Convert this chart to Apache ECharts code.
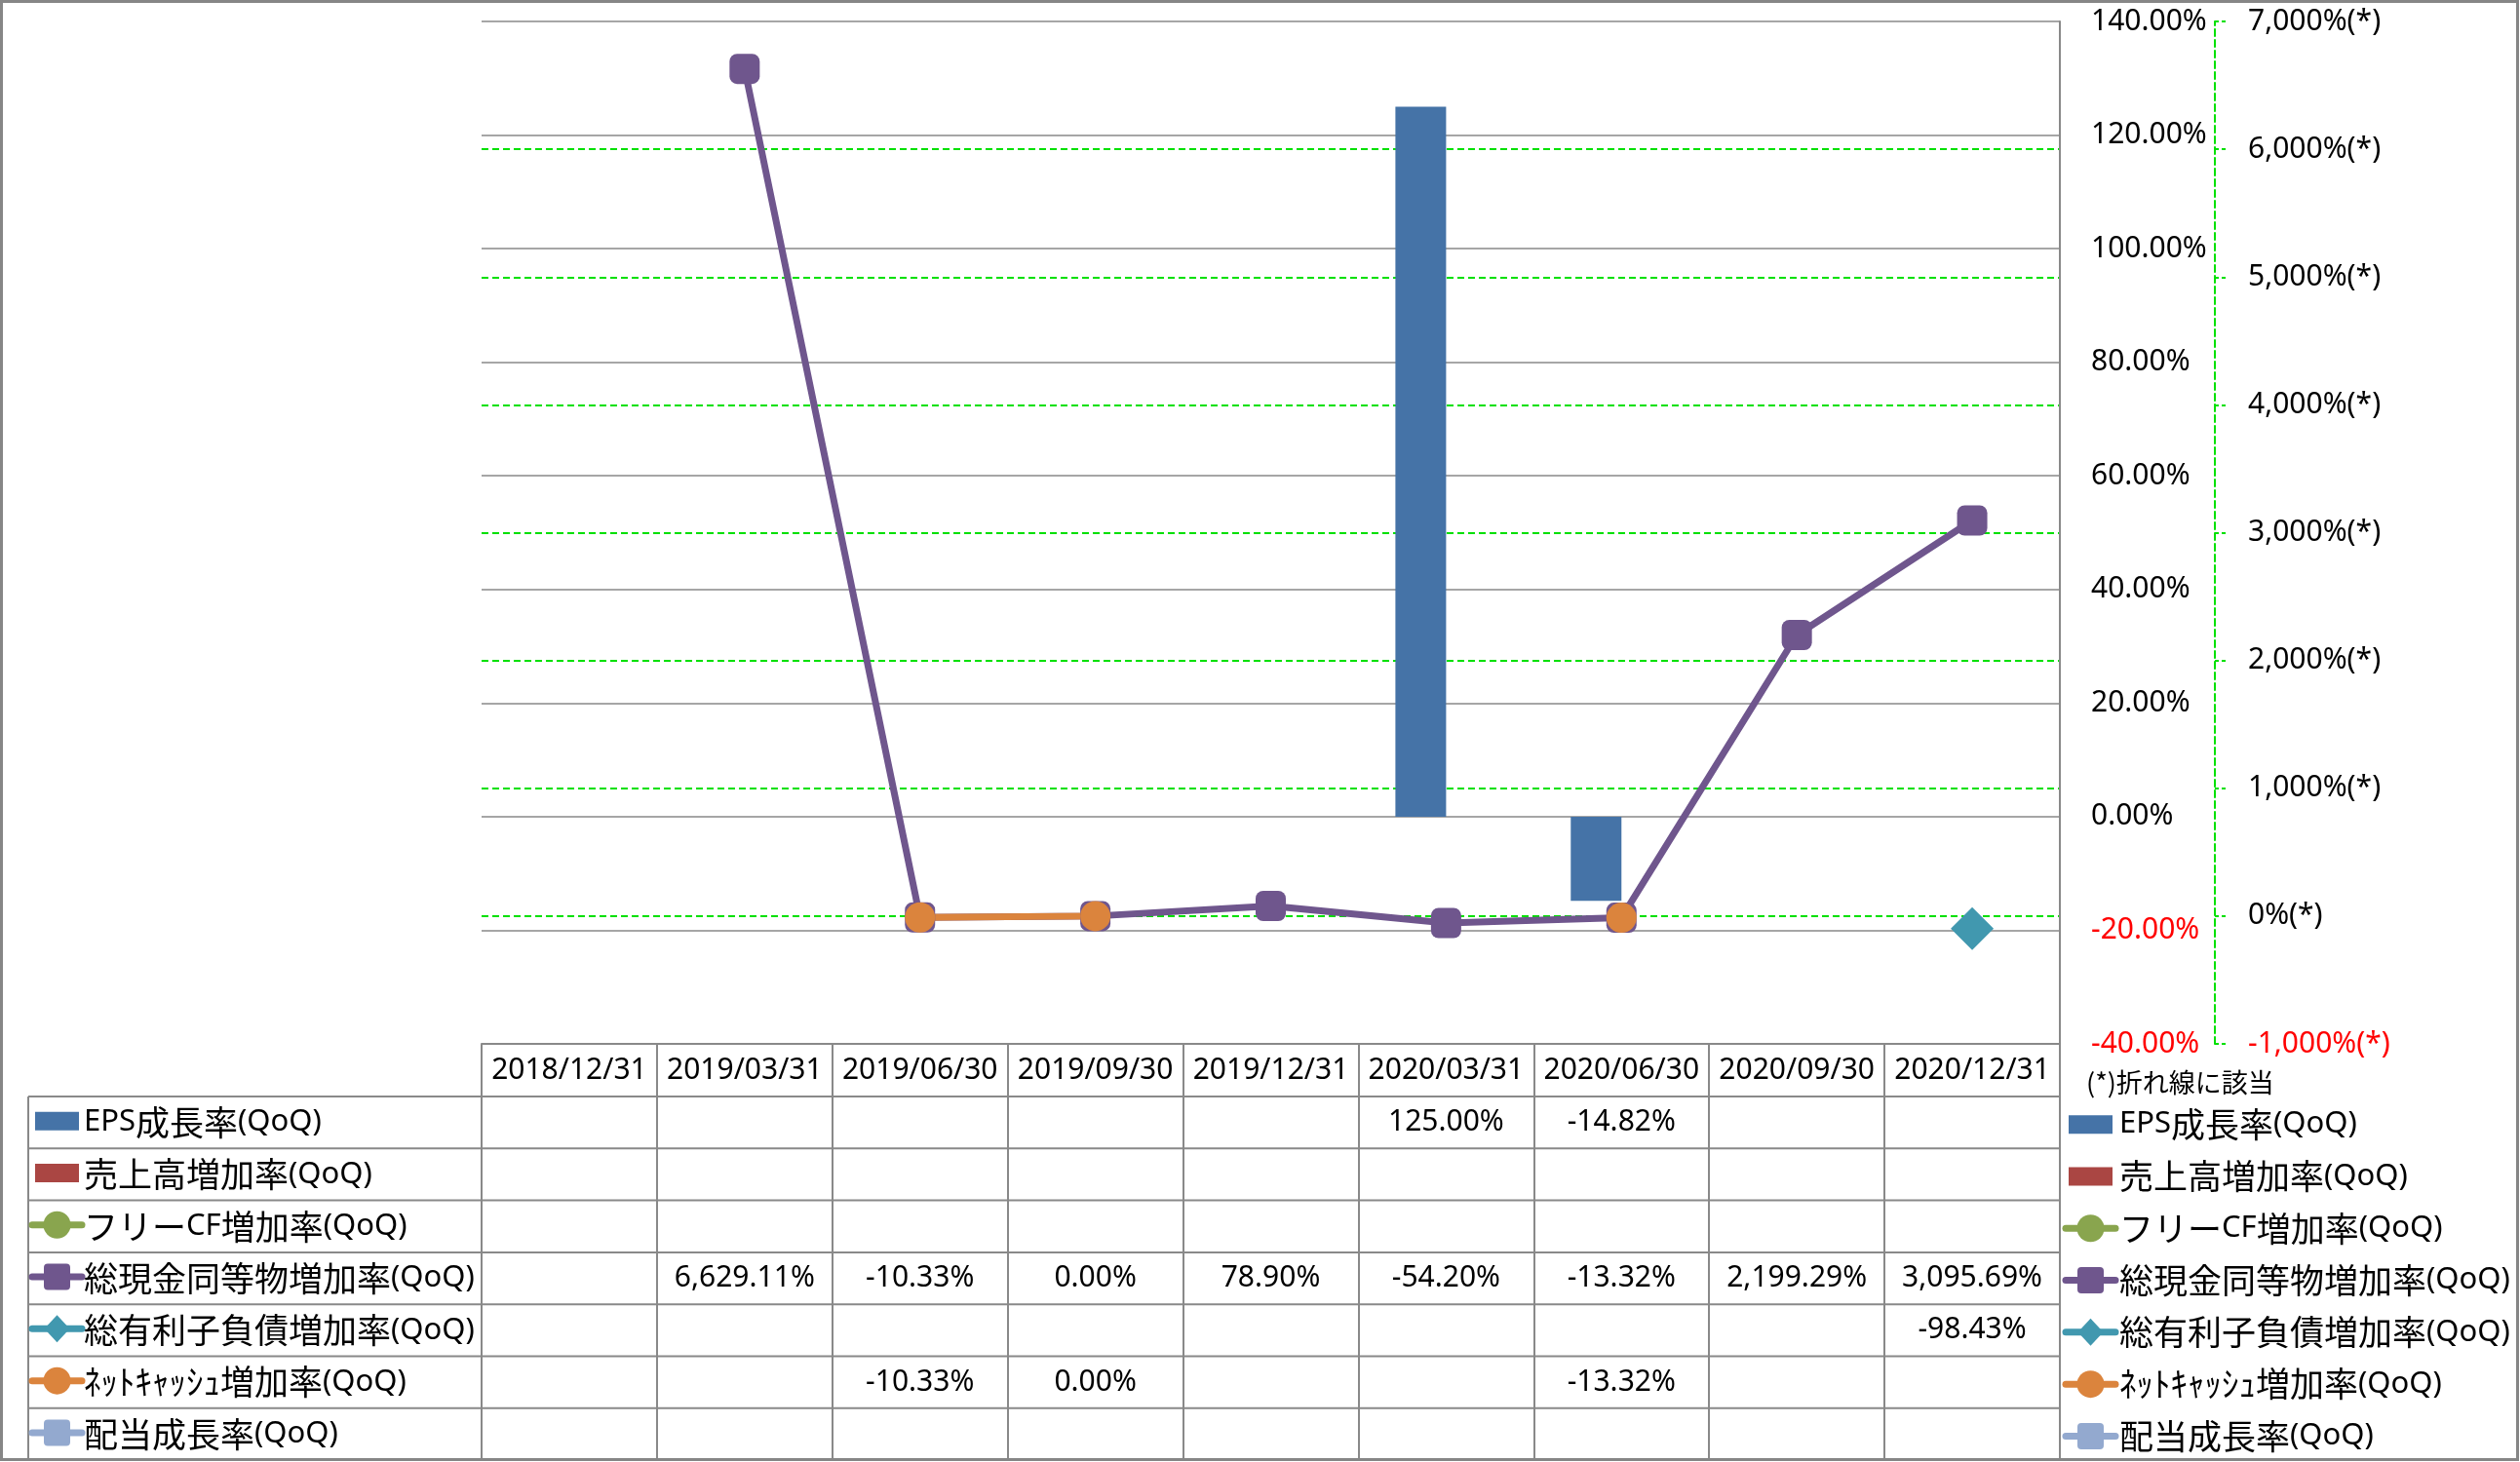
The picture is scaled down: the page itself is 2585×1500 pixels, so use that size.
<!DOCTYPE html>
<html>
<head>
<meta charset="utf-8">
<script src="https://cdn.jsdelivr.net/npm/echarts@6/dist/echarts.min.js"></script>
<style>
html,body{margin:0;padding:0;background:#ffffff;}
#c{width:2585px;height:1500px;}
</style>
</head>
<body>
<div id="c"></div>
<script>
// ---------------- data ----------------
const categories = ['2018/12/31','2019/03/31','2019/06/30','2019/09/30','2019/12/31','2020/03/31','2020/06/30','2020/09/30','2020/12/31'];
const epsGrowth      = [null, null, null, null, null, 125.00, -14.82, null, null];
const salesGrowth    = [null, null, null, null, null, null, null, null, null];
const fcfGrowth      = [null, null, null, null, null, null, null, null, null];
const cashGrowth     = [null, 6629.11, -10.33, 0.00, 78.90, -54.20, -13.32, 2199.29, 3095.69];
const debtGrowth     = [null, null, null, null, null, null, null, null, -98.43];
const netCashGrowth  = [null, null, -10.33, 0.00, null, null, -13.32, null, null];
const dividendGrowth = [null, null, null, null, null, null, null, null, null];
const seriesNames = ['EPS成長率(QoQ)','売上高増加率(QoQ)','フリーCF増加率(QoQ)','総現金同等物増加率(QoQ)','総有利子負債増加率(QoQ)','ﾈｯﾄｷｬｯｼｭ増加率(QoQ)','配当成長率(QoQ)'];
const leftAxisTicks  = [-40, -20, 0, 20, 40, 60, 80, 100, 120, 140];
const rightAxisTicks = [-1000, 0, 1000, 2000, 3000, 4000, 5000, 6000, 7000];
const footnote = '(*)折れ線に該当';

// ---------------- style ----------------
const seriesData = [epsGrowth, salesGrowth, fcfGrowth, cashGrowth, debtGrowth, netCashGrowth, dividendGrowth];
const seriesStyles = [
  {kind:'bar',  color:'#4573A7'},
  {kind:'bar',  color:'#AA4643'},
  {kind:'line', color:'#89A54E', symbol:'circle',    size:31},
  {kind:'line', color:'#6F568D', symbol:'roundRect', size:31},
  {kind:'line', color:'#4198AF', symbol:'diamond',   size:44},
  {kind:'line', color:'#DB843D', symbol:'circle',    size:31},
  {kind:'line', color:'#93A9CF', symbol:'roundRect', size:31}
];
const LATIN = '"Noto Sans", "Noto Sans CJK JP", sans-serif';
const CJK = '"Noto Sans CJK JP", sans-serif';
const GRAY = '#898989';
const GREEN = '#00e000';
const GRID = {left:494, right:472, top:22, bottom:429};
const TABLE_TOP = 1071, HEADER_H = 54, ROW_H = 53.3, TABLE_LEFT = 29, TABLE_RIGHT = 2113;

function fmtPct(v){
  return v.toLocaleString('en-US',{minimumFractionDigits:2, maximumFractionDigits:2}) + '%';
}
const CJK_RE = /[\u3000-\u30ff\u3400-\u9fff\uff00-\uffef]/;
function richLabel(s){
  const runs = s.match(/[\u3000-\u30ff\u3400-\u9fff\uff00-\uffef]+|[^\u3000-\u30ff\u3400-\u9fff\uff00-\uffef]+/g);
  return runs.map(r => (CJK_RE.test(r[0]) ? '{j|' : '{l|') + r + '}').join('');
}
const RICH = {
  j:{fontFamily:CJK, fontSize:35, fill:'#000', color:'#000'},
  l:{fontFamily:LATIN, fontSize:31, fill:'#000', color:'#000'}
};

const chart = echarts.init(document.getElementById('c'), null, {renderer:'canvas'});

const series = seriesNames.map((name, i) => {
  const st = seriesStyles[i];
  if (st.kind === 'bar') {
    return {
      name, type:'bar', yAxisIndex:0, data:seriesData[i],
      barWidth:52, barGap:'0%',
      itemStyle:{color:st.color}
    };
  }
  return {
    name, type:'line', yAxisIndex:1, data:seriesData[i],
    symbol:st.symbol, symbolSize:st.size, showSymbol:true, connectNulls:false,
    lineStyle:{color:st.color, width:7},
    itemStyle:{color:st.color},
    emphasis:{disabled:true}
  };
});

chart.setOption({
  animation:false,
  backgroundColor:'#ffffff',
  grid:Object.assign({containLabel:false, outerBoundsMode:'none'}, GRID),
  xAxis:{
    type:'category', data:categories, boundaryGap:true,
    axisLine:{show:true, onZero:false, lineStyle:{color:GRAY, width:2}},
    axisTick:{show:true, length:427, lineStyle:{color:GRAY, width:2}},
    axisLabel:{fontFamily:LATIN, fontSize:30, color:'#000', margin:27, verticalAlign:'middle', interval:0},
    splitLine:{show:false}
  },
  yAxis:[
    {
      type:'value', position:'right',
      min:leftAxisTicks[0], max:leftAxisTicks[leftAxisTicks.length-1],
      interval:leftAxisTicks[1]-leftAxisTicks[0],
      axisLine:{show:true, lineStyle:{color:GRAY, width:2}},
      axisTick:{show:false},
      axisLabel:{
        fontFamily:LATIN, fontSize:30, margin:32, showMinLabel:true, showMaxLabel:true,
        formatter:v => Number(v).toFixed(2) + '%',
        color:v => Number(v) < 0 ? '#ff0000' : '#000000'
      },
      splitLine:{show:true, lineStyle:{color:GRAY, width:1.6}}
    },
    {
      type:'value', position:'right', offset:159,
      min:rightAxisTicks[0], max:rightAxisTicks[rightAxisTicks.length-1],
      interval:rightAxisTicks[1]-rightAxisTicks[0],
      axisLine:{show:true, lineStyle:{color:GREEN, width:2, type:[7,4]}},
      axisTick:{show:true, length:11, inside:false, lineStyle:{color:GREEN, width:2, type:[4,3]}},
      axisLabel:{
        fontFamily:LATIN, fontSize:30, margin:34, showMinLabel:true, showMaxLabel:true,
        formatter:v => Number(v).toLocaleString('en-US') + '%(*)',
        color:v => Number(v) < 0 ? '#ff0000' : '#000000'
      },
      splitLine:{show:true, showMinLine:false, showMaxLine:false, lineStyle:{color:GREEN, width:2, type:[7,4]}}
    }
  ],
  series:series
});

// ---------------- data table & legends ----------------
function rowCenter(r){ return TABLE_TOP + HEADER_H + ROW_H * r + ROW_H / 2; }
function legendIcon(i, x0, cy){
  const st = seriesStyles[i];
  if (st.kind === 'bar') {
    return [{type:'rect', shape:{x:x0 + 3, y:cy - 9.5, width:45, height:19}, style:{fill:st.color}, silent:true}];
  }
  const els = [{type:'line', shape:{x1:x0, y1:cy, x2:x0 + 51, y2:cy}, style:{stroke:st.color, lineWidth:7, lineCap:'round'}, silent:true}];
  const cx = x0 + 25.5;
  if (st.symbol === 'circle') {
    els.push({type:'circle', shape:{cx:cx, cy:cy, r:14}, style:{fill:st.color}, silent:true});
  } else if (st.symbol === 'roundRect') {
    els.push({type:'rect', shape:{x:cx - 13.5, y:cy - 13.5, width:27, height:27, r:4}, style:{fill:st.color}, silent:true});
  } else {
    els.push({type:'polygon', shape:{points:[[cx, cy - 14], [cx + 13, cy], [cx, cy + 14], [cx - 13, cy]]}, style:{fill:st.color}, silent:true});
  }
  return els;
}

const g = [];
// outer border
g.push({type:'rect', shape:{x:1.5, y:1.5, width:2581, height:1496}, style:{fill:'none', stroke:'#868686', lineWidth:3}, silent:true, z:10});
// table horizontal lines
for (let r = 0; r < seriesNames.length; r++) {
  const y = TABLE_TOP + HEADER_H + ROW_H * r;
  g.push({type:'line', shape:{x1:TABLE_LEFT, y1:y, x2:TABLE_RIGHT, y2:y}, style:{stroke:GRAY, lineWidth:2}, silent:true});
}
// table left border
g.push({type:'line', shape:{x1:TABLE_LEFT, y1:TABLE_TOP + HEADER_H, x2:TABLE_LEFT, y2:1498}, style:{stroke:GRAY, lineWidth:2}, silent:true});

// rows: legend key + name on the left, values in the cells, legend on the right
seriesNames.forEach((name, r) => {
  const cy = rowCenter(r);
  legendIcon(r, 33, cy - 1.5).forEach(e => g.push(e));
  g.push({type:'text', x:86, y:cy, style:{text:richLabel(name), rich:RICH, align:'left', verticalAlign:'middle'}, silent:true});
  const cyR = cy + 2;
  legendIcon(r, 2119, cyR).forEach(e => g.push(e));
  g.push({type:'text', x:2174, y:cyR, style:{text:richLabel(name), rich:RICH, align:'left', verticalAlign:'middle'}, silent:true});
  seriesData[r].forEach((v, c) => {
    if (v === null) return;
    const x = chart.convertToPixel({xAxisIndex:0}, categories[c]);
    g.push({type:'text', x:x, y:cy, style:{text:fmtPct(v), fontFamily:LATIN, fontSize:30, fill:'#000', align:'center', verticalAlign:'middle'}, silent:true});
  });
});
// footnote
g.push({type:'text', x:2140, y:1111, style:{text:footnote, fontFamily:CJK, fontSize:27, fill:'#000', align:'left', verticalAlign:'middle'}, silent:true});

chart.setOption({graphic:{elements:g}});
</script>
</body>
</html>
